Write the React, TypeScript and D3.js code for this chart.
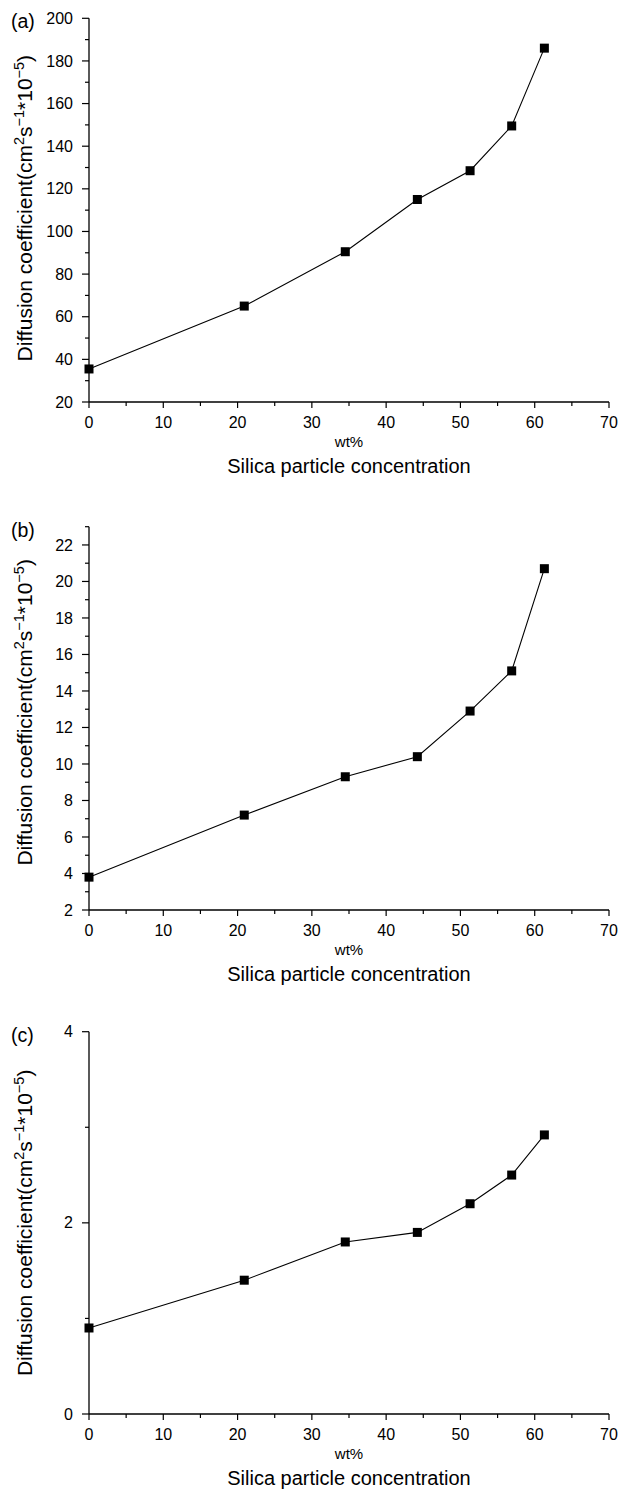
import React from "react";
import * as d3 from "d3";

const concentration = [0, 20.9, 34.5, 44.2, 51.3, 56.9, 61.3];
const diffA = [35.5, 65, 90.5, 115, 128.5, 149.5, 186];
const diffB = [3.8, 7.2, 9.3, 10.4, 12.9, 15.1, 20.7];
const diffC = [0.9, 1.4, 1.8, 1.9, 2.2, 2.5, 2.92];

const xTicks = [0, 10, 20, 30, 40, 50, 60, 70];
const xMinor = [5, 15, 25, 35, 45, 55, 65];
const yTicksA = [20, 40, 60, 80, 100, 120, 140, 160, 180, 200];
const yMinorA = [30, 50, 70, 90, 110, 130, 150, 170, 190];
const yTicksB = [2, 4, 6, 8, 10, 12, 14, 16, 18, 20, 22];
const yMinorB = [3, 5, 7, 9, 11, 13, 15, 17, 19, 21, 23];
const yTicksC = [0, 2, 4];
const yMinorC = [1, 3];

const panelLabels = ["(a)", "(b)", "(c)"];
const xTitle = "Silica particle concentration";
const xUnit = "wt%";

const FONT = "'Liberation Sans', Arial, sans-serif";

type PanelProps = {
  label: string;
  values: number[];
  yDomain: [number, number];
  yTicks: number[];
  yMinor: number[];
  top: number;
  bottom: number;
  labelShift: number;
};

function Panel({ label, values, yDomain, yTicks, yMinor, top, bottom, labelShift }: PanelProps) {
  const x = d3.scaleLinear().domain([0, 70]).range([89, 609]);
  const y = d3.scaleLinear().domain(yDomain).range([bottom, top]);
  const line = d3
    .line<number>()
    .x((_, i) => x(concentration[i]))
    .y((d) => y(d));
  const x0 = x(0);
  const mid = (top + bottom) / 2 + labelShift;
  return (
    <g>
      <text x={11} y={top + 10} fontFamily={FONT} fontSize={19.5}>
        {label}
      </text>
      <text
        transform={`translate(32,${mid}) rotate(-90)`}
        textAnchor="middle"
        fontFamily={FONT}
        fontSize={21}
      >
        Diffusion coefficient(cm
        <tspan fontSize={14.5} dy={-8}>2</tspan>
        <tspan dy={8}>s</tspan>
        <tspan fontSize={14.5} dy={-8}>−1</tspan>
        <tspan dy={8}>*10</tspan>
        <tspan fontSize={14.5} dy={-8}>−5</tspan>
        <tspan dy={8}>)</tspan>
      </text>
      {/* axes */}
      <line x1={x0} x2={x0} y1={y(yDomain[1])} y2={bottom} stroke="#000" strokeWidth={1.3} />
      <line x1={x0} x2={x(70)} y1={bottom} y2={bottom} stroke="#000" strokeWidth={1.3} />
      {yTicks.map((t) => (
        <g key={"y" + t}>
          <line x1={x0 - 7} x2={x0} y1={y(t)} y2={y(t)} stroke="#000" strokeWidth={1.2} />
          <text
            x={x0 - 16}
            y={y(t)}
            dy="0.35em"
            textAnchor="end"
            fontFamily={FONT}
            fontSize={16}
          >
            {t}
          </text>
        </g>
      ))}
      {yMinor.map((t) => (
        <line key={"ym" + t} x1={x0 - 4} x2={x0} y1={y(t)} y2={y(t)} stroke="#000" strokeWidth={1.2} />
      ))}
      {xTicks.map((t) => (
        <g key={"x" + t}>
          <line x1={x(t)} x2={x(t)} y1={bottom} y2={bottom + 6} stroke="#000" strokeWidth={1.2} />
          <text
            x={x(t)}
            y={bottom + 26}
            textAnchor="middle"
            fontFamily={FONT}
            fontSize={16}
          >
            {t}
          </text>
        </g>
      ))}
      {xMinor.map((t) => (
        <line key={"xm" + t} x1={x(t)} x2={x(t)} y1={bottom} y2={bottom + 4} stroke="#000" strokeWidth={1.2} />
      ))}
      <text x={x(35)} y={bottom + 45} textAnchor="middle" fontFamily={FONT} fontSize={15}>
        {xUnit}
      </text>
      <text x={x(35)} y={bottom + 71} textAnchor="middle" fontFamily={FONT} fontSize={20}>
        {xTitle}
      </text>
      <path d={line(values) || ""} fill="none" stroke="#000" strokeWidth={1.1} />
      {values.map((v, i) => (
        <rect
          key={"p" + i}
          x={x(concentration[i]) - 4.5}
          y={y(v) - 4.5}
          width={9}
          height={9}
          fill="#000"
        />
      ))}
    </g>
  );
}

export default function App() {
  return (
    <svg width={620} height={1489} style={{ display: "block", position: "absolute", left: 0, top: 0, background: "#fff" }}>
      <rect width={620} height={1489} fill="#fff" />
      <Panel label={panelLabels[0]} values={diffA} yDomain={[20, 200]} yTicks={yTicksA} yMinor={yMinorA} top={18.3} bottom={402} labelShift={-2} />
      <Panel label={panelLabels[1]} values={diffB} yDomain={[2, 23]} yTicks={yTicksB} yMinor={yMinorB} top={526.7} bottom={910} labelShift={-6} />
      <Panel label={panelLabels[2]} values={diffC} yDomain={[0, 4]} yTicks={yTicksC} yMinor={yMinorC} top={1031.7} bottom={1414} labelShift={0} />
    </svg>
  );
}
